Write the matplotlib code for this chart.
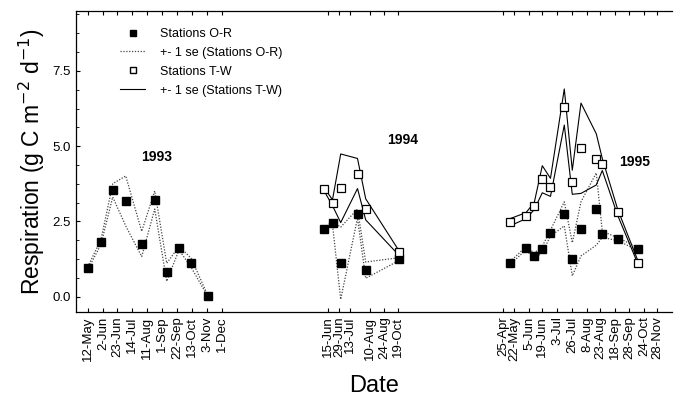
import matplotlib.pyplot as plt
from matplotlib.lines import Line2D
import numpy as np

plt.rcParams['font.family'] = ['Liberation Sans', 'DejaVu Sans']

# x positions are along the (compressed) plotting axis, one unit ~ one pixel
tick_pos = [12, 27, 41, 56, 71, 86, 101, 116, 131, 146,
            252, 263, 274, 294, 308, 322,
            427, 438, 453, 466, 481, 496, 511, 524, 539, 553, 568, 581]
tick_lab = ['12-May', '2-Jun', '23-Jun', '14-Jul', '11-Aug', '1-Sep', '22-Sep',
            '13-Oct', '3-Nov', '1-Dec',
            '15-Jun', '29-Jun', '13-Jul', '10-Aug', '24-Aug', '19-Oct',
            '25-Apr', '22-May', '5-Jun', '19-Jun', '3-Jul', '26-Jul', '8-Aug',
            '23-Aug', '18-Sep', '28-Sep', '24-Oct', '28-Nov']

# 1993 (only stations O-R)
x93 = [11.7, 25, 36.7, 49.7, 65.7, 78.7, 90.7, 103, 115, 131.7]
or93 = [0.94, 1.82, 3.53, 3.18, 1.75, 3.21, 0.81, 1.61, 1.13, 0.03]
or93_se = [0.05, 0.08, 0.22, 0.83, 0.42, 0.3, 0.3, 0.06, 0.15, 0.02]

# 1994
x94 = [248, 256.5, 264.7, 281.5, 289.7, 322.5]
or94 = [2.24, 2.44, 1.11, 2.76, 0.88, 1.24]
or94_se = [0.05, 0.05, 1.2, 0.15, 0.27, 0.05]
tw94 = [3.57, 3.12, 3.60, 4.09, 2.90, 1.47]
tw94_se = [0.05, 0.1, 1.14, 0.5, 0.35, 0.08]

# 1995
x95 = [434, 450, 458.3, 466.3, 474.5, 488.3, 496.3, 505, 520.3, 526.3, 541.7, 562.3]
or95 = [1.11, 1.61, 1.35, 1.57, 2.11, 2.75, 1.24, 2.25, 2.91, 2.07, 1.91, 1.58]
or95_se = [0.05, 0.05, 0.1, 0.1, 0.1, 0.4, 0.55, 0.9, 1.2, 0.1, 0.05, 0.05]
tw95 = [2.47, 2.69, 3.01, 3.90, 3.63, 6.30, 3.80, 4.93, 4.56, 4.39, 2.80, 1.11]
tw95_se = [0.12, 0.1, 0.12, 0.45, 0.3, 0.6, 0.4, 1.5, 0.85, 0.2, 0.1, 0.05]

years = ['1993', '1994', '1995']
year_x = [81, 327, 559]
year_y = [4.64, 5.2, 4.47]

fig = plt.figure(figsize=(6.74, 4.0), dpi=100)
ax = fig.add_axes([0.1128, 0.2208, 0.8842, 0.7525])

dot = dict(color='#444444', lw=0.9, ls=(0, (1, 1.3)))
sol = dict(color='black', lw=0.8, ls='-')

for x, m, s in [(x93, or93, or93_se), (x94, or94, or94_se), (x95, or95, or95_se)]:
    m, s = np.array(m), np.array(s)
    ax.plot(x, m + s, **dot)
    ax.plot(x, m - s, **dot)
for x, m, s in [(x94, tw94, tw94_se), (x95, tw95, tw95_se)]:
    m, s = np.array(m), np.array(s)
    ax.plot(x, m + s, **sol)
    ax.plot(x, m - s, **sol)

for x, m in [(x93, or93), (x94, or94), (x95, or95)]:
    ax.plot(x, m, 's', ms=5.5, mfc='black', mec='black', ls='none', zorder=5)
for x, m in [(x94, tw94), (x95, tw95)]:
    ax.plot(x, m, 's', ms=6, mfc='white', mec='black', mew=0.9, ls='none', zorder=5)

for t, xx, yy in zip(years, year_x, year_y):
    ax.text(xx, yy, t, ha='center', va='center', fontsize=10, fontweight='bold')

ax.set_xlim(0, 596)
ax.set_ylim(-0.5, 9.5)
ax.set_xticks(tick_pos)
ax.set_xticklabels(tick_lab, rotation=90, fontsize=9.5)
ax.set_yticks([0, 2.5, 5.0, 7.5])
ax.set_yticklabels(['0.0', '2.5', '5.0', '7.5'], fontsize=9.5)
ax.set_yticks(np.arange(0, 9.5, 0.625), minor=True)
ax.tick_params(axis='both', direction='in', top=True, length=3, width=0.8)
ax.tick_params(axis='y', which='minor', direction='in', length=2)
ax.spines['right'].set_visible(False)
for sp in ['left', 'bottom', 'top']:
    ax.spines[sp].set_linewidth(0.9)

ax.set_ylabel('Respiration (g C m$^{-2}$ d$^{-1}$)', fontsize=16.5, labelpad=4)
ax.set_xlabel('Date', fontsize=17, labelpad=10)

handles = [
    Line2D([], [], marker='s', ms=5, mfc='black', mec='black', ls='none'),
    Line2D([], [], **dot),
    Line2D([], [], marker='s', ms=5, mfc='white', mec='black', ls='none'),
    Line2D([], [], **sol),
]
labels = ['Stations O-R', '+- 1 se (Stations O-R)', 'Stations T-W', '+- 1 se (Stations T-W)']
ax.legend(handles, labels, loc='upper left', bbox_to_anchor=(0.055, 0.98), frameon=False,
          fontsize=9, handlelength=2.0, labelspacing=0.55, handletextpad=1.2)

fig.savefig('out.png', dpi=100)
